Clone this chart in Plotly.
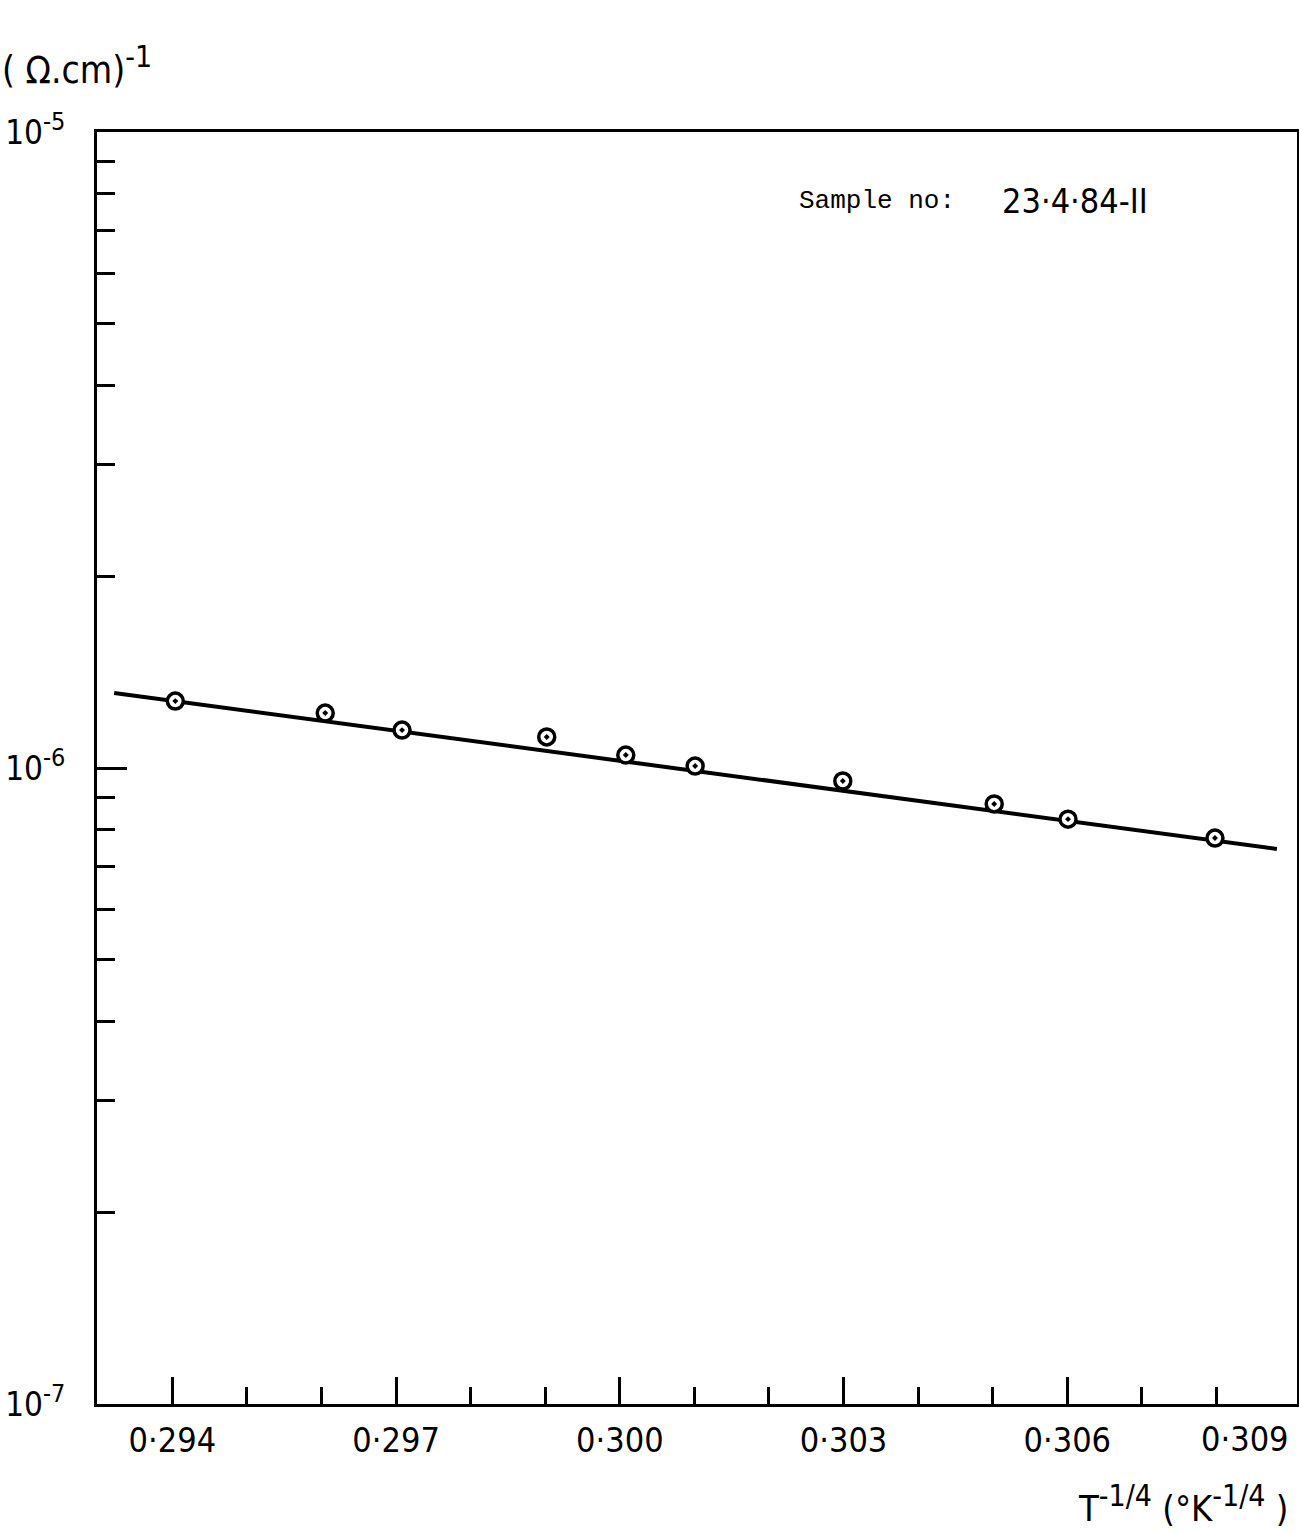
import plotly.graph_objects as go

# ---- data ----
t_quarter = [0.29404, 0.29605, 0.29708, 0.29902, 0.30008, 0.30101, 0.30299, 0.30502, 0.30601, 0.30798]
sigma = [1.274e-6, 1.220e-6, 1.147e-6, 1.119e-6, 1.048e-6, 1.007e-6, 0.954e-6, 0.878e-6, 0.831e-6, 0.776e-6]

fit_x = [0.29322, 0.30881]
fit_y = [1.312e-6, 0.746e-6]

x_major_ticks = [0.294, 0.297, 0.300, 0.303, 0.306]
x_major_text = ["0·294", "0·297", "0·300", "0·303", "0·306"]
x_minor_ticks = [0.295, 0.296, 0.298, 0.299, 0.301, 0.302, 0.304, 0.305, 0.307, 0.308]
x_last_label = "0·309"
x_last_value = 0.309

SUP = "<sup><span style='font-size:{}px'>{}</span></sup>"
y_major_ticks = [1e-7, 1e-6, 1e-5]
y_major_text = ["10" + SUP.format(25, "-7"), "10" + SUP.format(25, "-6"), "10" + SUP.format(25, "-5")]
y_minor_ticks = [m * 10.0**e for e in (-7, -6) for m in range(2, 10)]

x_range = [0.29299, 0.30908]
y_range_log = [-7, -5]

SANS = "DejaVu Sans Condensed, Liberation Sans Narrow, Roboto Condensed, DejaVu Sans, Arial, sans-serif"
MONO = "Liberation Mono, Courier New, monospace"

fig = go.Figure()
fig.add_trace(go.Scatter(
    x=fit_x, y=fit_y, mode="lines",
    line=dict(color="black", width=4), showlegend=False, hoverinfo="skip"))
fig.add_trace(go.Scatter(
    x=t_quarter, y=sigma, mode="markers",
    marker=dict(symbol="circle-dot", size=16, color="white",
                line=dict(color="black", width=3.5)),
    showlegend=False))

fig.update_xaxes(
    range=x_range, showgrid=False, zeroline=False, automargin=False,
    showline=True, linecolor="black", linewidth=3, mirror=True,
    tickmode="array", tickvals=x_major_ticks, ticktext=x_major_text,
    ticks="inside", ticklen=27, tickwidth=3, tickcolor="black",
    ticklabelstandoff=4,
    tickfont=dict(family=SANS, size=34, color="black"),
    minor=dict(tickmode="array", tickvals=x_minor_ticks, ticks="inside",
               ticklen=17, tickwidth=3, tickcolor="black", showgrid=False),
)
fig.update_yaxes(
    type="log", range=y_range_log, showgrid=False, zeroline=False, automargin=False,
    showline=True, linecolor="black", linewidth=3, mirror=True,
    tickmode="array", tickvals=y_major_ticks, ticktext=y_major_text,
    ticks="inside", ticklen=30, tickwidth=3, tickcolor="black",
    ticklabelstandoff=22,
    tickfont=dict(family=SANS, size=33, color="black"),
    minor=dict(tickmode="array", tickvals=y_minor_ticks, ticks="inside",
               ticklen=18, tickwidth=3, tickcolor="black", showgrid=False),
)

annotations = [
    dict(text="( Ω.cm)" + SUP.format(30, "-1"), xref="paper", yref="paper",
         x=-0.0808, y=1.052, xanchor="left", yanchor="middle", showarrow=False,
         font=dict(family=SANS, size=37, color="black")),
    dict(text="Sample no:", xref="paper", yref="paper",
         x=0.5833, y=0.9458, xanchor="left", yanchor="middle", showarrow=False,
         font=dict(family=MONO, size=26, color="black")),
    dict(text="23·4·84-II", xref="paper", yref="paper",
         x=0.7525, y=0.9458, xanchor="left", yanchor="middle", showarrow=False,
         font=dict(family=SANS, size=34, color="black")),
    dict(text=x_last_label, xref="x", yref="paper",
         x=x_last_value, y=-0.0275, xanchor="right", yanchor="middle", showarrow=False,
         font=dict(family=SANS, size=34, color="black")),
    dict(text="T" + SUP.format(30, "-1/4") + " (°K" + SUP.format(30, "-1/4") + " )",
         xref="paper", yref="paper",
         x=0.994, y=-0.078, xanchor="right", yanchor="middle", showarrow=False,
         font=dict(family=SANS, size=36, color="black")),
]

fig.update_layout(
    width=1299, height=1533,
    margin=dict(l=97, r=2, t=132, b=129),
    paper_bgcolor="white", plot_bgcolor="white",
    annotations=annotations,
    showlegend=False,
)

fig.write_html("out.html")
